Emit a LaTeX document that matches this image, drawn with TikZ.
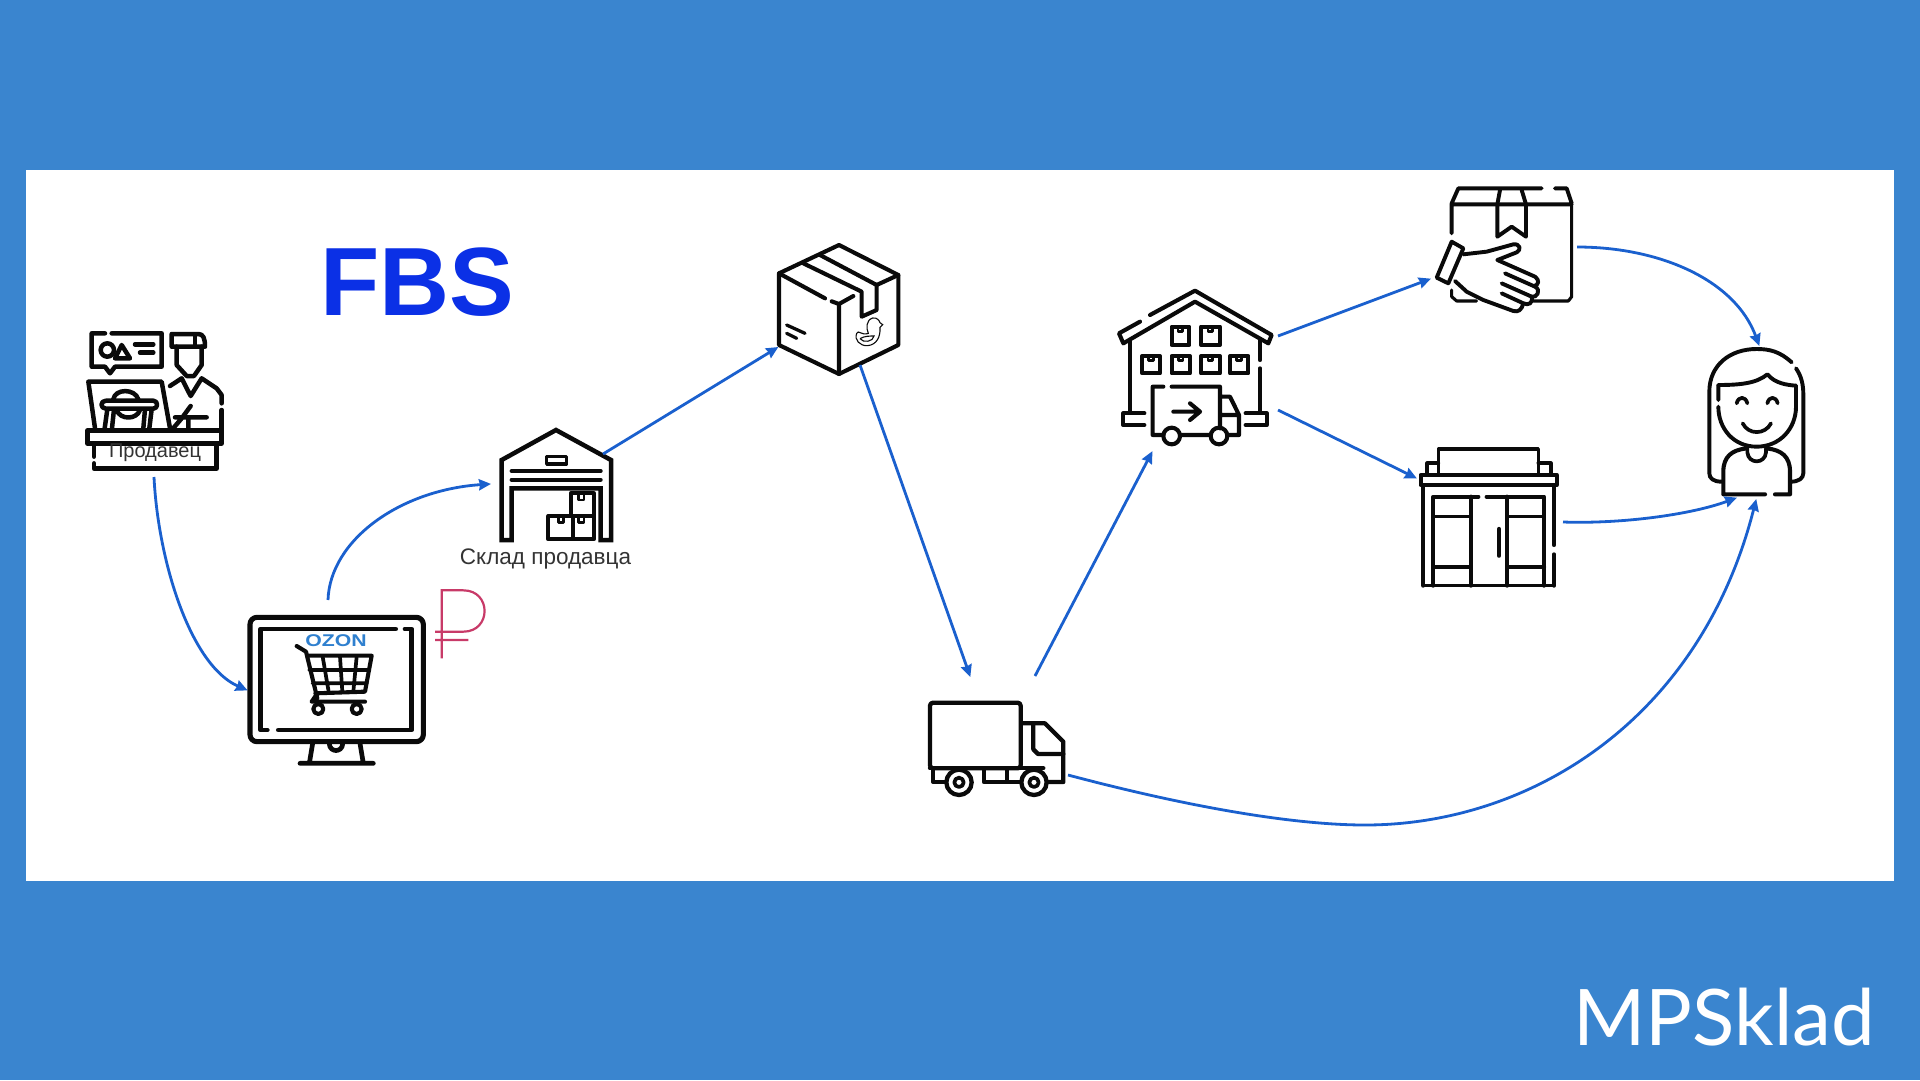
\documentclass[tikz,border=0pt]{standalone}
\usepackage{fontspec}
\setmainfont{Liberation Sans}
\newfontfamily\brandfont{Lato}
\usetikzlibrary{arrows.meta}
\definecolor{bgblue}{HTML}{3A85CF}
\definecolor{linkblue}{HTML}{1A60CE}
\definecolor{fbsblue}{HTML}{0B30E6}
\definecolor{ozonblue}{HTML}{2F80CF}
\definecolor{rublered}{HTML}{C83A68}
\definecolor{ink}{HTML}{0A0A0A}
\tikzset{
  zm/.style 2 args={shift={(#1,#2)},x=0.33333pt,y=-0.33333pt},
  icon/.style={draw=ink,line width={#1+0.7pt},line cap=round,line join=round},
  icon/.default=3.8pt,
  link/.style={draw=linkblue,line width=2.8pt,-{Stealth[length=12pt,width=11pt,inset=1pt]},shorten >=-1pt},
  label/.style={text=black!80,inner sep=0pt,font=\fontsize{22.5}{26}\selectfont},
}
\begin{document}
\begin{tikzpicture}[x=1pt,y=-1pt]
\useasboundingbox (0,0) rectangle (1920,1080);
\fill[bgblue] (0,0) rectangle (1920,1080);
\fill[white] (26,170) rectangle (1894,880.5);

% connector ports
\coordinate (sellerOut) at (154,477);
\coordinate (monitorIn) at (246.7,690);
\coordinate (monitorOut) at (328,600);
\coordinate (depotIn) at (490,484);
\coordinate (depotOut) at (603,454);
\coordinate (parcelIn) at (777.5,347.5);
\coordinate (parcelOut) at (860,365);
\coordinate (truckIn) at (970,676);
\coordinate (truckUp) at (1035,676);
\coordinate (truckOut) at (1068,775);
\coordinate (hubIn) at (1152,452);
\coordinate (hubOutA) at (1278,336);
\coordinate (hubOutB) at (1278,410);
\coordinate (handIn) at (1430,279);
\coordinate (handOut) at (1577,247);
\coordinate (storeIn) at (1416,478);
\coordinate (storeOut) at (1563,522);
\coordinate (womanA) at (1759,345);
\coordinate (womanB) at (1736,498);
\coordinate (womanC) at (1756,500);

% seller
\begin{scope}[zm={70}{310}]
\path[icon] (105,70) -- (65,70) -- (65,170) -- (105,170) -- (120,190) -- (135,170) -- (275,170) -- (275,70) -- (125,70);
\path[icon] (112,120) circle (20*1);
\path[icon] (135,145) -- (180,145) -- (155,105) -- cycle;
\path[icon] (195,103) -- (250,103) (210,128) -- (250,128);
\path[icon] (320,110) -- (305,110) -- (305,72) -- (385,72) .. controls (400,72) and (405,85) .. (405,110) -- (320,110);
\path[icon] (375,75) -- (375,108);
\path[icon] (320,110) -- (320,165) -- (350,198) -- (372,198) -- (395,165) -- (395,110);
\path[icon] (300,228) -- (335,205) -- (362,258) -- (395,205) -- (440,235) -- (455,255) -- (455,280);
\path[icon] (455,300) -- (455,395);
\path[icon] (75,355) -- (55,215) -- (275,215) -- (300,355);
\path[icon] (130,268) .. controls (135,235) and (195,235) .. (205,268);
\path[icon] (108,272) -- (250,272) .. controls (265,272) and (265,296) .. (250,296) -- (108,296) .. controls (90,296) and (90,272) .. (108,272);
\path[icon] (112,298) -- (104,355) (132,298) -- (126,355) (225,298) -- (220,355) (245,298) -- (238,355);
\path[icon] (140,300) .. controls (150,330) and (200,330) .. (210,300);
\path[icon] (312,352) -- (335,325) -- (362,288) (315,322) -- (410,322) (355,322) -- (355,358);
\path[icon] (52,362) rectangle (455,400);
\path[icon] (72,402) -- (72,440) (72,460) -- (72,476) -- (440,476) -- (440,402);
\end{scope}
\node[label,font=\fontsize{20}{24}\selectfont] (sellerText) at (155,453) {Продавец};

% monitor
\begin{scope}[zm={230}{410}]
\path[icon=4.4pt,rounded corners=7pt] (60,622) rectangle (580,995);
\path[icon=4pt] (497,657) -- (92,657) -- (92,960) -- (112,960) (145,960) -- (545,960) -- (545,657) -- (525,657);
\path[icon=4pt] (248,1000) -- (238,1060) (390,1000) -- (400,1060) (210,1060) -- (430,1060);
\path[icon=4pt] (298,1002) .. controls (300,1028) and (336,1028) .. (338,1002);
\path[icon=3.4pt] (200,708) -- (228,725) -- (262,865) (232,737) -- (425,737) -- (405,845) -- (256,850);
\path[icon=3pt] (278,740) -- (296,845) (330,740) -- (337,845) (380,740) -- (370,845) (238,780) -- (418,780) (248,820) -- (410,820);
\path[icon=3.4pt] (262,850) -- (245,875) -- (405,875);
\path[icon=3.4pt] (265,897) circle (15*1) (380,897) circle (15*1);
\end{scope}
\node[inner sep=0pt,text=ozonblue,font=\fontsize{17}{17}\bfseries\selectfont,xscale=1.25] (ozonText) at (336,641) {OZON};
\begin{scope}[zm={230}{410}]
\path[draw=rublered,line width=2.2pt] (635,745) -- (635,541) -- (700,541) .. controls (785,541) and (785,665) .. (700,665) -- (615,665) (615,690) -- (715,690);
\end{scope}

% depot
\begin{scope}[zm={230}{410}]
\path[icon=3.8pt,line join=miter] (815,390) -- (815,150) -- (978,60) -- (1143,150) -- (1143,390) -- (1112,390) -- (1112,235) -- (845,235) -- (845,390) -- cycle;
\path[icon=3.4pt] (845,183) -- (1112,183) (845,209) -- (1112,209);
\path[icon=2.6pt] (950,140) rectangle (1010,162);
\path[icon=3pt] (955,318) rectangle (1028,388) (1028,318) rectangle (1092,388) (1022,250) rectangle (1092,318);
\path[icon=2pt] (985,322) -- (985,338) -- (1000,338) -- (1000,322) (1046,322) -- (1046,338) -- (1062,338) -- (1062,322) (1046,254) -- (1046,270) -- (1062,270) -- (1062,254);
\end{scope}
\node[label] (depotText) at (545.5,558.5) {Склад продавца};

% parcel
\begin{scope}[zm={760}{230}]
\path[icon=3.4pt] (237,45) -- (415,135) -- (415,345) -- (237,432) -- (57,345) -- (57,130) -- cycle;
\path[icon=3.4pt] (237,222) -- (237,432) (57,130) -- (195,205) (215,214) -- (237,222) -- (280,198) (350,165) -- (415,135);
\path[icon=3.4pt] (130,100) -- (305,185) -- (305,260) -- (350,240) -- (350,165) -- (180,75);
\path[icon=2.6pt] (80,285) -- (135,310) (80,310) -- (110,325);
\path[draw=ink,line width=1.1pt] (290,310) .. controls (295,298) and (305,318) .. (325,310) .. controls (318,295) and (318,270) .. (338,264) .. controls (352,262) and (358,272) .. (360,278) -- (368,284) -- (360,292) .. controls (362,320) and (350,345) .. (322,347) .. controls (300,348) and (282,330) .. (290,310);
\path[draw=ink,line width=1.1pt] (300,326) .. controls (312,318) and (330,318) .. (342,318) .. controls (340,335) and (310,340) .. (300,326);
\end{scope}

% truck
\begin{scope}[zm={910}{680}]
\path[icon=3.6pt,rounded corners=3pt] (60,68) rectangle (332,265);
\path[icon=3.6pt] (70,268) -- (70,306) -- (108,306) (222,268) -- (222,306) -- (290,306) -- (290,268) (290,306) -- (335,306);
\path[icon=3.6pt] (60,265) -- (400,265);
\path[icon=3.6pt] (334,130) -- (405,130) -- (460,185) -- (460,306) -- (412,306);
\path[icon=3.6pt] (370,135) -- (370,208) -- (384,222) -- (460,222);
\path[icon=3.6pt,fill=white] (147,307) circle (38*1) (372,307) circle (38*1);
\path[icon=3pt] (147,307) circle (14*1) (372,307) circle (14*1);
\end{scope}

% hub
\begin{scope}[zm={1105}{280}]
\path[icon=3.4pt] (135,105) -- (270,32) -- (500,165) -- (490,190) -- (270,65) -- (55,190) -- (42,160) -- (105,125);
\path[icon=3.4pt] (75,185) -- (75,395) (465,180) -- (465,240) (465,265) -- (465,395);
\path[icon=3.4pt] (200,140) rectangle (253,195) (288,140) rectangle (345,195) (112,228) rectangle (165,280) (200,228) rectangle (255,280) (288,228) rectangle (345,280) (375,228) rectangle (430,280);
\foreach \bx/\by in {226/140,316/140,138/228,227/228,316/228,402/228}{
  \path[icon=2pt] (\bx-7,\by) -- (\bx-7,\by+14) -- (\bx+7,\by+14) -- (\bx+7,\by);
}
\path[icon=3.4pt] (118,400) -- (55,400) -- (55,435) -- (118,435) (422,400) -- (485,400) -- (485,435) -- (422,435);
\path[icon=3.4pt] (175,320) -- (143,320) -- (143,465) -- (175,465) (200,320) -- (345,320) -- (345,445) (225,465) -- (315,465) (345,350) -- (375,350) -- (402,405) -- (402,465) -- (368,465) (345,405) -- (402,405);
\path[icon=3.4pt] (200,468) circle (25*1) (342,468) circle (25*1);
\path[icon=3.4pt] (205,395) -- (285,395) (255,370) -- (285,395) -- (255,420);
\end{scope}

% hand over parcel
\begin{scope}[zm={1420}{175}]
\path[icon=3.2pt] (365,40) -- (115,40) -- (95,85) -- (95,175) (405,40) -- (440,40) -- (455,85) (95,88) -- (455,88);
\path[icon=2.4pt] (455,88) -- (455,365) -- (445,378) -- (340,378) (95,345) -- (95,365) -- (110,378) -- (170,378);
\path[icon=3.2pt] (240,45) -- (232,88) -- (232,185) -- (275,155) -- (318,185) -- (318,88) -- (305,45);
\path[icon=3.2pt] (95,200) -- (130,220) -- (85,325) -- (50,308) -- cycle;
\path[icon=3.2pt] (130,238) -- (200,230) -- (280,208) .. controls (300,205) and (305,225) .. (290,232) -- (232,255) -- (345,305) .. controls (360,315) and (355,330) .. (345,332);
\path[icon=3.2pt] (255,295) -- (345,335) .. controls (365,345) and (350,370) .. (335,365) -- (245,325);
\path[icon=3.2pt] (335,365) .. controls (340,385) and (325,392) .. (310,385) -- (245,355);
\path[icon=3.2pt] (310,385) .. controls (305,405) and (295,412) .. (280,408) -- (190,375) -- (140,350) -- (105,318);
\end{scope}

% store
\begin{scope}[zm={1400}{435}]
\path[icon=2.6pt] (115,118) -- (115,42) -- (415,42) -- (415,118);
\path[icon=3pt] (115,85) -- (82,85) -- (82,118) (415,85) -- (452,85) -- (452,118);
\path[icon=3.4pt] (62,120) rectangle (470,150);
\path[icon=3.4pt] (70,150) -- (70,452) (462,150) -- (462,330) (462,358) -- (462,452);
\path[icon=2.4pt] (70,452) -- (462,452);
\path[icon=3.4pt] (235,185) -- (100,185) -- (100,452) (260,185) -- (432,185) -- (432,452) (212,185) -- (212,452) (322,185) -- (322,452);
\path[icon=2.6pt] (100,245) -- (212,245) (322,245) -- (432,245);
\path[icon=3.6pt] (100,397) -- (212,397) (322,397) -- (432,397) (297,282) -- (297,362);
\end{scope}

% customer
\begin{scope}[zm={1690}{335}]
\path[icon=3.2pt] (305,82) .. controls (270,50) and (240,42) .. (200,42) .. controls (120,42) and (58,90) .. (58,170) -- (58,415) .. controls (58,430) and (70,440) .. (95,440);
\path[icon=3.2pt] (318,100) .. controls (335,125) and (340,150) .. (340,180) -- (340,415) .. controls (340,430) and (325,440) .. (303,440);
\path[icon=3.2pt] (85,150) .. controls (150,150) and (200,145) .. (232,118) .. controls (255,145) and (290,150) .. (318,152);
\path[icon=3.2pt] (85,150) -- (85,195) (85,215) .. controls (85,280) and (130,335) .. (200,335) .. controls (270,335) and (318,280) .. (318,215) -- (318,152);
\path[icon=3pt] (140,205) .. controls (145,183) and (167,183) .. (172,205) (232,205) .. controls (237,183) and (258,183) .. (263,205);
\path[icon=3pt] (158,265) .. controls (175,300) and (225,300) .. (243,265);
\path[icon=3pt] (172,340) -- (172,352) .. controls (175,388) and (225,388) .. (228,352) -- (228,340);
\path[icon=3.4pt] (170,340) .. controls (125,345) and (100,365) .. (100,410) -- (100,478) -- (225,478) (255,478) -- (300,478) -- (300,410) .. controls (300,365) and (275,345) .. (230,340);
\end{scope}

% connectors
\draw[link] (sellerOut) .. controls (158,560) and (190,665) .. (monitorIn);
\draw[link] (monitorOut) .. controls (330,540) and (400,490) .. (depotIn);
\draw[link] (depotOut) -- (parcelIn);
\draw[link] (parcelOut) -- (truckIn);
\draw[link] (truckUp) -- (hubIn);
\draw[link] (hubOutA) -- (handIn);
\draw[link] (hubOutB) -- (storeIn);
\draw[link] (handOut) .. controls (1660,247) and (1735,280) .. (womanA);
\draw[link] (storeOut) .. controls (1620,524) and (1690,515) .. (womanB);
\draw[link] (truckOut) .. controls (1200,810) and (1300,825) .. (1365,825) .. controls (1530,825) and (1700,720) .. (womanC);

% titles
\node[inner sep=0pt,text=fbsblue,font=\fontsize{97}{97}\bfseries\selectfont] (fbsTitle) at (417.5,282) {FBS};
\node[inner sep=0pt,text=white,font=\brandfont\fontsize{78}{78}\selectfont] (brandText) at (1724,1017) {MPSklad};
\end{tikzpicture}
\end{document}
